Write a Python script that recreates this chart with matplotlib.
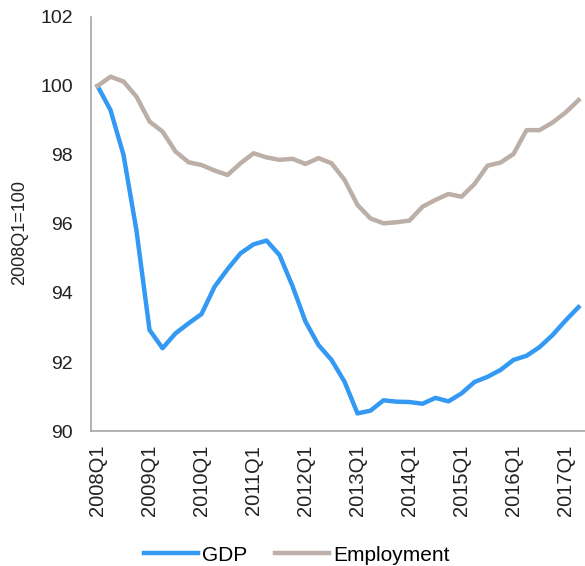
import numpy as np
import matplotlib
matplotlib.use("Agg")
from matplotlib import pyplot as plt

plt.rcParams['font.family'] = ['Liberation Sans', 'DejaVu Sans']

# Quarterly index, 2008Q1 = 100
quarters = ['{}Q{}'.format(y, q) for y in range(2008, 2018) for q in range(1, 5)][:38]

gdp = [100.0, 99.3, 98.0, 95.8, 92.93, 92.4, 92.83, 93.12, 93.39, 94.18,
       94.69, 95.15, 95.41, 95.52, 95.1, 94.2, 93.17, 92.49, 92.06, 91.43,
       90.51, 90.59, 90.89, 90.85, 90.84, 90.79, 90.96, 90.86, 91.09, 91.42,
       91.57, 91.77, 92.06, 92.18, 92.43, 92.78, 93.2, 93.59]

employment = [100.0, 100.27, 100.13, 99.69, 98.97, 98.68, 98.1, 97.79, 97.71, 97.55,
              97.42, 97.76, 98.05, 97.93, 97.86, 97.89, 97.74, 97.91, 97.76, 97.28,
              96.55, 96.16, 96.02, 96.05, 96.1, 96.5, 96.7, 96.87, 96.79, 97.16,
              97.69, 97.78, 98.03, 98.72, 98.72, 98.94, 99.23, 99.59]

yticks = [90, 92, 94, 96, 98, 100, 102]

fig = plt.figure(figsize=(5.85, 5.66), dpi=100)
ax = fig.add_axes([0.1556, 0.2385, 0.8444, 0.7315])

x = np.arange(len(quarters))
ax.plot(x, gdp, color='#3399F3', lw=3.2, label='GDP', solid_joinstyle='round')
ax.plot(x, employment, color='#BBAFA7', lw=3.2, label='Employment', solid_joinstyle='round')

ax.set_xlim(-0.5, len(quarters) - 0.5)
ax.set_ylim(90, 102)
ax.set_yticks(yticks)
ax.set_yticklabels([str(t) for t in yticks], fontsize=14, color='#222222')

yearly = x[::4]
ax.set_xticks(yearly)
ax.set_xticklabels([quarters[i] for i in yearly], rotation=90, fontsize=14.5, color='#222222')

ax.tick_params(axis='y', length=0, pad=13)
ax.tick_params(axis='x', length=0, pad=10)

for side in ['top', 'right']:
    ax.spines[side].set_visible(False)
for side in ['left', 'bottom']:
    ax.spines[side].set_color('#A6A6A6')
    ax.spines[side].set_linewidth(1.2)

ax.set_ylabel('2008Q1=100', fontsize=13, color='#222222')
ax.yaxis.set_label_coords(-0.128, 0.48)

fig.legend(loc='center', bbox_to_anchor=(0.507, 0.0194), ncol=2, frameon=False,
           fontsize=15, handlelength=2.6, handletextpad=0.2, columnspacing=1.3)

fig.savefig('out.png', dpi=100)
